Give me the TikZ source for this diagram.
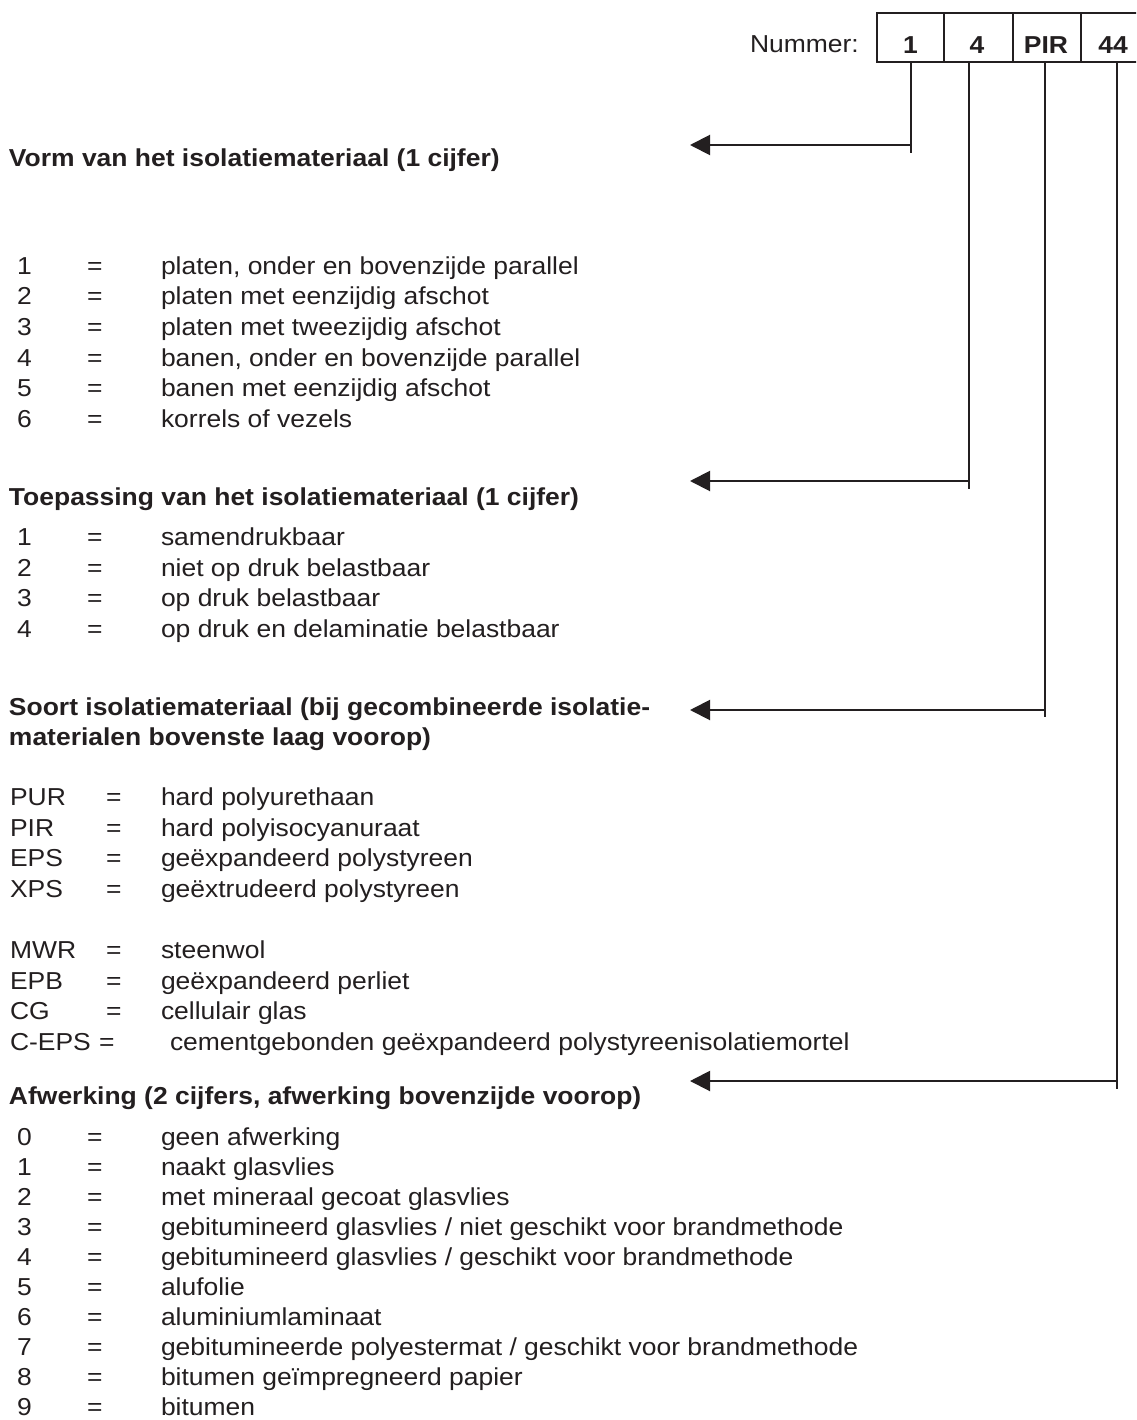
\documentclass[tikz,border=0pt]{standalone}
\usepackage{fontspec}
\setmainfont{Liberation Sans}[FakeStretch=1.08]
\usetikzlibrary{arrows.meta}
\definecolor{ink}{RGB}{35,31,32}
\newcommand{\itemrow}[7]{%
  \node[txt] (#1-c) at (#3,#2) {#4};
  \node[txt] (#1-q) at (#5,#2) {=};
  \node[txt] (#1-d) at (#6,#2) {#7};
}
\begin{document}
\begin{tikzpicture}[x=1pt,y=-1pt,
  txt/.style={anchor=base west,inner sep=0pt,outer sep=0pt,text=ink,font=\fontsize{24.5}{30}\selectfont},
  head/.style={txt,font=\fontsize{24.5}{30}\selectfont\bfseries},
  cell/.style={anchor=base,inner sep=0pt,text=ink,font=\fontsize{24.5}{30}\selectfont\bfseries},
  wire/.style={draw=ink,line width=2pt},
  pointer/.style={wire,-{Triangle[length=20pt,width=20pt]}}]
\clip (0,0) rectangle (1136,1420);
\fill[white] (0,0) rectangle (1136,1420);

% number box
\node[txt] (num) at (750,53) {Nummer:};
\draw[wire] (877,13) rectangle (1160,62);
\draw[wire] (944,13) -- (944,62);
\draw[wire] (1013,13) -- (1013,62);
\draw[wire] (1081,13) -- (1081,62);
\node[cell] (b1) at (910.5,54) {1};
\node[cell] (b2) at (977,54) {4};
\node[cell] (b3) at (1046,54) {PIR};
\node[cell] (b4) at (1113,54) {44};

% connector coordinates
\coordinate (c1) at (911,62);  \coordinate (e1) at (911,153);  \coordinate (k1) at (911,145);  \coordinate (t1) at (690,145);
\coordinate (c2) at (969,62);  \coordinate (e2) at (969,489);  \coordinate (k2) at (969,481);  \coordinate (t2) at (690,481);
\coordinate (c3) at (1045,62); \coordinate (e3) at (1045,717); \coordinate (k3) at (1045,710); \coordinate (t3) at (690,710);
\coordinate (c4) at (1117,62); \coordinate (e4) at (1117,1089); \coordinate (k4) at (1117,1081); \coordinate (t4) at (690,1081);
\draw[wire] (c1) -- (e1); \draw[pointer] (k1) -- (t1);
\draw[wire] (c2) -- (e2); \draw[pointer] (k2) -- (t2);
\draw[wire] (c3) -- (e3); \draw[pointer] (k3) -- (t3);
\draw[wire] (c4) -- (e4); \draw[pointer] (k4) -- (t4);

% section 1
\node[head] (h1) at (9,167) {Vorm van het isolatiemateriaal (1 cijfer)};
\itemrow{a1}{274.5}{17}{1}{87}{161}{platen, onder en bovenzijde parallel}
\itemrow{a2}{305}{17}{2}{87}{161}{platen met eenzijdig afschot}
\itemrow{a3}{335.5}{17}{3}{87}{161}{platen met tweezijdig afschot}
\itemrow{a4}{366}{17}{4}{87}{161}{banen, onder en bovenzijde parallel}
\itemrow{a5}{396.5}{17}{5}{87}{161}{banen met eenzijdig afschot}
\itemrow{a6}{427}{17}{6}{87}{161}{korrels of vezels}

% section 2
\node[head] (h2) at (9,505) {Toepassing van het isolatiemateriaal (1 cijfer)};
\itemrow{b1}{545.5}{17}{1}{87}{161}{samendrukbaar}
\itemrow{b2}{576}{17}{2}{87}{161}{niet op druk belastbaar}
\itemrow{b3}{606.5}{17}{3}{87}{161}{op druk belastbaar}
\itemrow{b4}{637}{17}{4}{87}{161}{op druk en delaminatie belastbaar}

% section 3
\node[head] (h3) at (9,715) {Soort isolatiemateriaal (bij gecombineerde isolatie-};
\node[head] (h3b) at (9,745) {materialen bovenste laag voorop)};
\itemrow{c1}{805.5}{10}{PUR}{106}{161}{hard polyurethaan}
\itemrow{c2}{836}{10}{PIR}{106}{161}{hard polyisocyanuraat}
\itemrow{c3}{866.5}{10}{EPS}{106}{161}{geëxpandeerd polystyreen}
\itemrow{c4}{897}{10}{XPS}{106}{161}{geëxtrudeerd polystyreen}
\itemrow{c5}{958.5}{10}{MWR}{106}{161}{steenwol}
\itemrow{c6}{989}{10}{EPB}{106}{161}{geëxpandeerd perliet}
\itemrow{c7}{1019.5}{10}{CG}{106}{161}{cellulair glas}
\itemrow{c8}{1050}{10}{C-EPS}{99}{170}{cementgebonden geëxpandeerd polystyreenisolatiemortel}

% section 4
\node[head] (h4) at (9,1104) {Afwerking (2 cijfers, afwerking bovenzijde voorop)};
\itemrow{d0}{1145.5}{17}{0}{87}{161}{geen afwerking}
\itemrow{d1}{1175.5}{17}{1}{87}{161}{naakt glasvlies}
\itemrow{d2}{1205.5}{17}{2}{87}{161}{met mineraal gecoat glasvlies}
\itemrow{d3}{1235.5}{17}{3}{87}{161}{gebitumineerd glasvlies / niet geschikt voor brandmethode}
\itemrow{d4}{1265.5}{17}{4}{87}{161}{gebitumineerd glasvlies / geschikt voor brandmethode}
\itemrow{d5}{1295.5}{17}{5}{87}{161}{alufolie}
\itemrow{d6}{1325.5}{17}{6}{87}{161}{aluminiumlaminaat}
\itemrow{d7}{1355.5}{17}{7}{87}{161}{gebitumineerde polyestermat / geschikt voor brandmethode}
\itemrow{d8}{1385.5}{17}{8}{87}{161}{bitumen geïmpregneerd papier}
\itemrow{d9}{1415.5}{17}{9}{87}{161}{bitumen}
\end{tikzpicture}
\end{document}
